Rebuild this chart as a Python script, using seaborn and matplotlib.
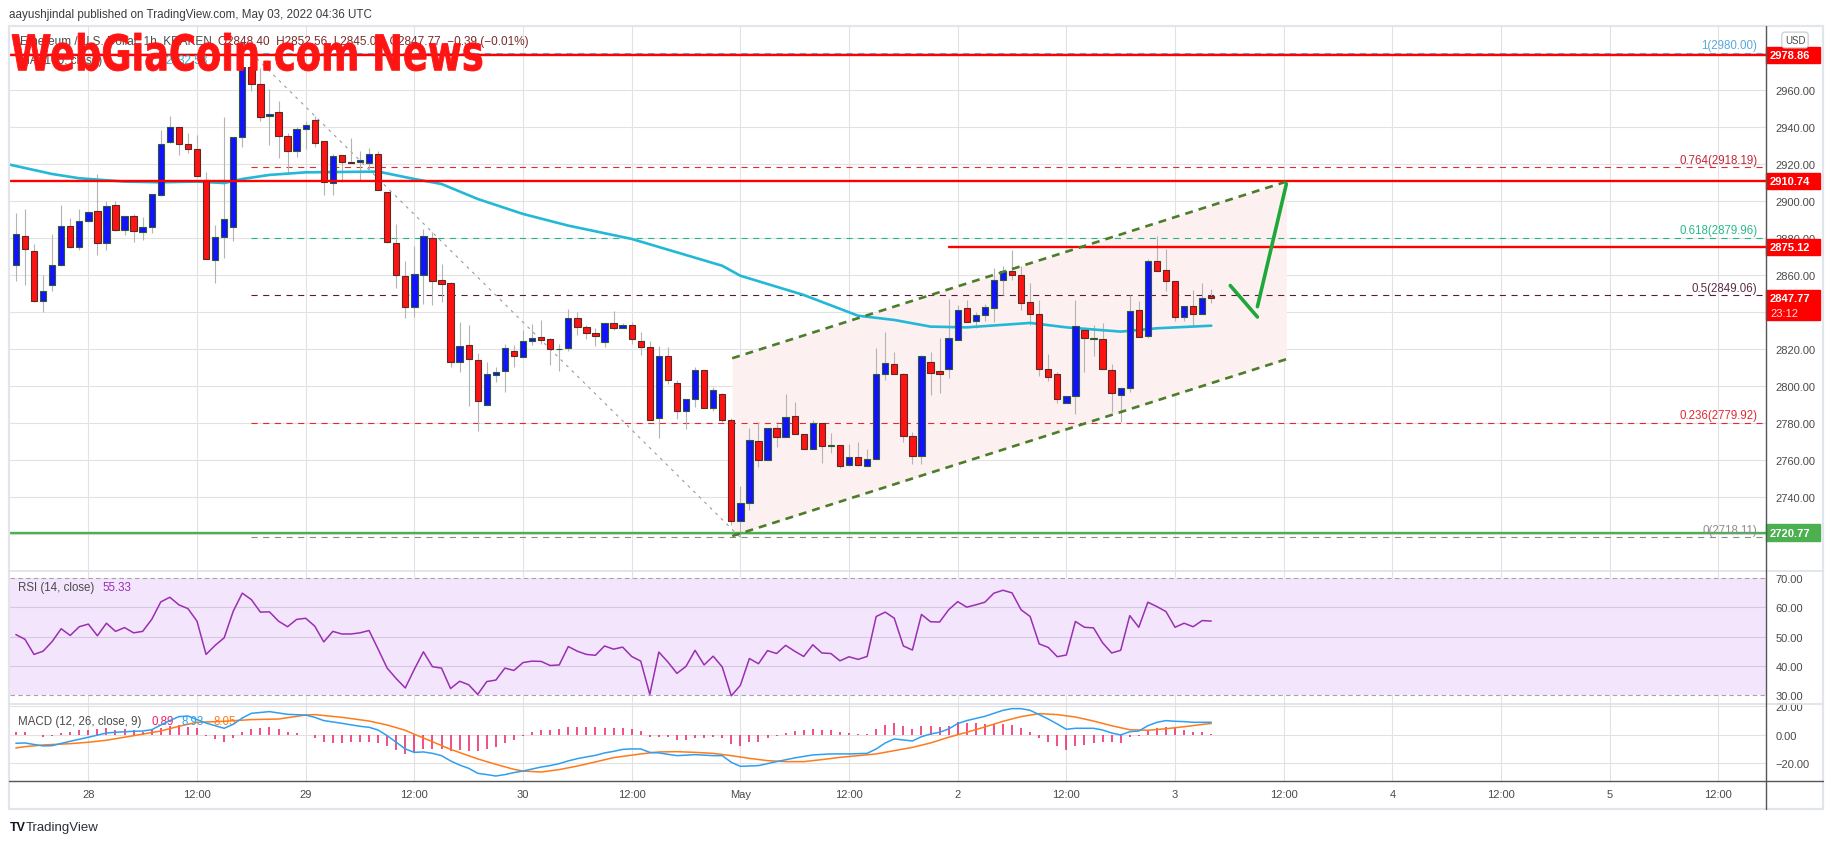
import numpy as np
import pandas as pd
import matplotlib
matplotlib.use("Agg")
import matplotlib.pyplot as plt
import seaborn as sns
from matplotlib.lines import Line2D
from matplotlib.patches import Rectangle, PathPatch
from matplotlib.ticker import FuncFormatter
from matplotlib.textpath import TextPath
from matplotlib.font_manager import FontProperties
from matplotlib.transforms import Affine2D, IdentityTransform

# ---- data ----
# hourly candles, first one = Apr 27 16:00 UTC
opens = [2865.4, 2881.3, 2872.8, 2846.1, 2854.4, 2865.4, 2886.3, 2875.0, 2889.0, 2894.4,
         2877.1, 2897.8, 2884.5, 2891.7, 2883.1, 2885.8, 2903.2, 2932.1, 2939.8, 2930.6,
         2927.9, 2911.5, 2867.9, 2880.4, 2885.8, 2934.4, 2972.5, 2963.2, 2945.8, 2947.9,
         2935.0, 2926.8, 2938.9, 2944.0, 2932.3, 2909.5, 2924.7, 2920.9, 2920.9, 2920.4,
         2925.2, 2904.7, 2877.1, 2859.3, 2842.5, 2860.0, 2879.8, 2857.1, 2855.5, 2812.8,
         2822.0, 2813.9, 2789.7, 2806.1, 2807.9, 2818.9, 2815.9, 2824.1, 2826.3, 2825.2,
         2819.8, 2820.3, 2836.6, 2831.7, 2828.5, 2823.6, 2833.9, 2831.4, 2832.8, 2824.1,
         2820.9, 2782.5, 2816.0, 2801.4, 2786.3, 2792.8, 2808.5, 2788.3, 2795.5, 2781.8,
         2727.0, 2737.0, 2770.1, 2760.2, 2777.1, 2772.3, 2783.6, 2773.9, 2766.0, 2779.8,
         2767.4, 2767.9, 2757.2, 2761.4, 2756.8, 2760.4, 2806.3, 2811.7, 2806.3, 2772.8,
         2762.0, 2812.8, 2807.9, 2809.2, 2825.1, 2842.0, 2835.0, 2838.2, 2842.0, 2857.1,
         2862.0, 2859.8, 2845.2, 2838.7, 2809.0, 2806.3, 2790.6, 2794.4, 2830.1, 2825.4,
         2825.3, 2808.5, 2795.0, 2798.7, 2840.9, 2826.9, 2867.4, 2862.5, 2856.6, 2837.1,
         2843.1, 2838.7, 2848.4]
highs = [2893.5, 2895.7, 2876.8, 2860.0, 2882.2, 2897.8, 2890.8, 2895.7, 2894.8, 2914.6,
         2899.8, 2899.8, 2891.7, 2893.0, 2891.2, 2903.8, 2938.6, 2945.8, 2939.8, 2936.6,
         2935.7, 2915.5, 2887.2, 2945.2, 2934.4, 2975.0, 2980.0, 2971.7, 2960.5, 2953.9,
         2936.8, 2939.8, 2943.4, 2946.0, 2932.3, 2925.4, 2924.7, 2934.1, 2926.8, 2928.6,
         2926.8, 2904.7, 2887.6, 2867.6, 2875.9, 2884.9, 2883.1, 2866.0, 2856.0, 2834.8,
         2833.0, 2817.8, 2813.2, 2810.1, 2822.7, 2822.1, 2830.4, 2833.5, 2835.7, 2825.8,
         2822.7, 2841.6, 2839.8, 2833.0, 2831.2, 2833.9, 2840.4, 2833.9, 2834.4, 2829.0,
         2824.1, 2821.4, 2820.9, 2803.2, 2792.8, 2810.3, 2808.5, 2799.3, 2796.2, 2782.5,
         2746.0, 2777.3, 2780.4, 2777.1, 2779.5, 2795.7, 2791.4, 2773.9, 2781.6, 2779.8,
         2774.4, 2767.9, 2768.6, 2769.5, 2766.0, 2820.5, 2829.0, 2818.4, 2807.2, 2775.0,
         2817.0, 2818.2, 2825.8, 2847.0, 2844.0, 2846.5, 2839.8, 2844.3, 2863.8, 2864.7,
         2873.5, 2864.7, 2855.5, 2846.5, 2817.3, 2807.4, 2794.4, 2846.5, 2831.7, 2833.0,
         2833.9, 2811.7, 2798.7, 2849.2, 2845.9, 2868.6, 2880.9, 2874.0, 2856.6, 2843.1,
         2851.9, 2855.5, 2852.56]
lows = [2856.9, 2854.8, 2845.2, 2840.2, 2851.5, 2865.0, 2874.6, 2873.7, 2888.5, 2871.0,
        2873.7, 2884.0, 2881.8, 2877.7, 2879.1, 2882.5, 2902.9, 2931.4, 2925.0, 2925.8,
        2913.2, 2868.5, 2855.9, 2869.4, 2878.6, 2929.4, 2959.6, 2943.4, 2930.3, 2923.1,
        2914.6, 2923.6, 2928.0, 2929.0, 2903.4, 2903.4, 2910.1, 2920.4, 2911.5, 2917.3,
        2905.8, 2877.1, 2853.0, 2836.8, 2837.5, 2844.3, 2844.0, 2845.6, 2810.5, 2807.4,
        2789.4, 2775.5, 2789.7, 2802.3, 2796.9, 2810.5, 2815.9, 2822.1, 2822.7, 2811.6,
        2808.3, 2819.1, 2827.8, 2825.4, 2821.8, 2821.3, 2830.5, 2831.2, 2822.7, 2816.9,
        2781.4, 2772.1, 2801.1, 2782.2, 2777.0, 2788.8, 2787.9, 2786.7, 2780.7, 2725.0,
        2718.11, 2733.0, 2756.4, 2760.2, 2767.2, 2772.3, 2773.9, 2766.0, 2766.0, 2758.2,
        2763.6, 2755.5, 2757.0, 2757.0, 2756.8, 2760.4, 2803.1, 2806.3, 2769.6, 2758.0,
        2758.0, 2795.3, 2796.0, 2804.1, 2825.0, 2834.4, 2831.3, 2835.3, 2834.4, 2849.4,
        2857.5, 2840.9, 2833.1, 2805.6, 2802.9, 2790.6, 2790.6, 2785.0, 2807.7, 2816.4,
        2809.0, 2786.1, 2780.7, 2796.9, 2826.3, 2825.8, 2862.0, 2851.5, 2835.3, 2835.3,
        2831.7, 2838.7, 2845.0]
closes = [2882.2, 2873.9, 2846.1, 2851.2, 2865.2, 2886.3, 2875.0, 2889.0, 2893.9, 2877.1,
          2897.1, 2884.5, 2891.7, 2883.6, 2885.8, 2903.8, 2930.6, 2939.8, 2930.6, 2927.9,
          2913.3, 2868.5, 2880.4, 2890.1, 2934.4, 2972.5, 2963.2, 2945.2, 2947.2, 2935.0,
          2926.8, 2938.7, 2941.1, 2931.2, 2910.1, 2924.1, 2920.9, 2920.7, 2922.0, 2925.2,
          2905.8, 2877.7, 2860.0, 2842.5, 2860.4, 2880.9, 2856.9, 2855.0, 2812.8, 2821.4,
          2814.4, 2792.1, 2806.3, 2807.4, 2820.4, 2816.0, 2824.1, 2825.8, 2825.0, 2819.8,
          2820.1, 2836.6, 2831.7, 2828.5, 2826.8, 2833.9, 2831.2, 2832.8, 2825.2, 2820.9,
          2781.4, 2816.0, 2803.1, 2786.3, 2792.8, 2808.5, 2788.3, 2797.7, 2781.4, 2727.0,
          2737.0, 2770.8, 2760.0, 2777.1, 2772.3, 2783.1, 2773.9, 2766.0, 2779.8, 2767.4,
          2767.9, 2756.8, 2761.4, 2757.2, 2760.4, 2806.3, 2812.3, 2806.3, 2772.8, 2762.0,
          2816.4, 2806.9, 2806.3, 2825.8, 2840.9, 2834.4, 2838.2, 2842.5, 2857.1, 2862.0,
          2859.8, 2844.7, 2838.7, 2809.2, 2804.7, 2792.8, 2794.4, 2832.3, 2825.8, 2825.4,
          2809.0, 2796.0, 2798.7, 2840.4, 2826.3, 2867.4, 2862.0, 2856.6, 2837.1, 2843.1,
          2838.7, 2847.8, 2847.77]

# MA(100) read at a few candles
ma_idx = [-1, 4, 7, 12, 16, 20, 23, 25, 28, 32, 40, 44, 47, 51, 56, 61, 68, 74, 78, 80,
          87, 93, 97, 101, 105, 112, 116, 122, 126, 132]
ma_val = [2920.0, 2914.6, 2912.3, 2910.5, 2910.1, 2910.5, 2909.7, 2911.9, 2914.1, 2915.5,
          2915.9, 2911.9, 2909.2, 2901.1, 2893.0, 2886.7, 2879.5, 2870.8, 2865.0, 2859.6,
          2849.2, 2838.0, 2835.7, 2832.1, 2831.7, 2834.1, 2831.7, 2829.4, 2831.2, 2832.6]

rsi = [50.7, 49.1, 43.9, 45.0, 48.3, 52.7, 50.4, 53.4, 54.3, 50.3,
       54.6, 51.8, 53.1, 51.3, 51.8, 55.9, 61.9, 63.5, 60.9, 59.6,
       55.3, 43.9, 47.0, 49.6, 58.7, 64.9, 62.7, 58.4, 58.5, 55.3,
       53.4, 55.9, 56.3, 53.6, 48.2, 51.8, 50.9, 50.9, 51.3, 52.1,
       45.7, 39.2, 35.6, 32.4, 38.8, 44.8, 39.7, 39.2, 32.2, 34.7,
       33.5, 30.2, 34.6, 35.1, 39.2, 38.4, 41.1, 41.6, 41.5, 40.1,
       40.3, 46.6, 45.0, 43.9, 43.6, 46.8, 45.7, 46.4, 43.2, 41.6,
       30.2, 44.7, 41.3, 37.4, 39.8, 45.3, 40.3, 43.3, 39.6, 29.7,
       33.3, 42.5, 40.7, 45.2, 44.2, 47.0, 45.0, 43.2, 47.2, 44.4,
       44.2, 41.7, 43.1, 42.2, 43.2, 56.9, 58.4, 56.3, 46.8, 45.4,
       57.6, 55.1, 55.0, 59.2, 62.0, 60.1, 60.9, 61.8, 64.9, 65.9,
       65.0, 59.2, 56.9, 47.5, 46.3, 43.1, 43.7, 55.2, 53.2, 53.0,
       47.9, 44.4, 45.3, 57.2, 53.2, 61.8, 60.3, 58.6, 53.2, 54.6,
       53.4, 55.5, 55.33]

macd_idx = [0, 1, 3, 4, 6, 8, 10, 11, 13, 14, 15, 16, 17, 18, 19, 20, 21, 22, 23, 24,
            25, 26, 28, 30, 32, 33, 34, 36, 38, 39, 40, 41, 42, 43, 44, 45, 46, 47, 48, 49,
            50, 51, 52, 53, 54, 55, 56, 57, 58, 59, 60, 61, 62, 63, 64, 65, 66, 67, 68, 69,
            70, 71, 73, 75, 77, 78, 79, 80, 82, 84, 86, 88, 90, 92, 94, 95, 96, 97, 98, 99,
            100, 101, 102, 103, 104, 105, 107, 108, 109, 110, 111, 112, 113, 114, 115, 116, 117, 119, 120, 121,
            122, 123, 124, 125, 126, 127, 128, 129, 130, 131, 132]
macd_val = [-5.8, -5.6, -7.7, -7.5, -4.4, -1.6, 1.4, 1.9, 2.6, 2.8, 3.7, 7.0, 10.1, 12.9, 13.3, 10.8, 8.4, 6.5, 4.7, 7.5,
            11.9, 15.2, 16.4, 14.5, 14.0, 12.4, 10.1, 8.2, 6.1, 5.4, 3.5, -0.5, -5.1, -9.8, -12.2, -11.9, -12.9, -14.5, -18.2, -21.1,
            -23.4, -26.9, -27.8, -28.8, -27.8, -26.4, -25.3, -23.9, -22.5, -21.5, -20.1, -18.2, -16.6, -15.4, -14.3, -12.6, -11.5, -10.1, -9.8, -9.8,
            -12.2, -12.6, -14.5, -13.8, -14.5, -14.5, -19.2, -22.0, -21.5, -18.7, -16.1, -14.0, -13.3, -13.3, -12.9, -9.8, -5.6, -2.8, -3.5, -4.2,
            -1.2, 0.7, 1.9, 4.2, 8.0, 10.1, 13.1, 15.2, 17.3, 18.5, 18.5, 17.3, 14.3, 11.2, 7.7, 4.0, 4.7, 4.7, 3.5, 1.4,
            0.0, 2.3, 2.8, 6.5, 8.9, 10.1, 9.6, 9.4, 8.9, 8.9, 8.93]
signal_idx = [0, 1, 3, 6, 8, 10, 13, 16, 18, 20, 23, 26, 29, 32, 33, 36, 39, 41, 43, 44,
              46, 48, 51, 53, 55, 56, 58, 60, 62, 64, 66, 69, 71, 73, 75, 77, 79, 81, 83, 85,
              87, 89, 91, 93, 95, 97, 99, 101, 103, 105, 107, 109, 111, 113, 115, 117, 119, 121, 123, 125,
              127, 129, 131, 132]
signal_val = [-9.1, -8.2, -7.0, -6.1, -5.1, -3.7, -0.5, 2.8, 6.1, 8.9, 9.6, 10.8, 11.2, 14.0, 14.3, 12.4, 9.8, 7.0, 3.3, 0.5,
              -4.7, -10.1, -16.8, -20.6, -24.1, -25.3, -26.0, -24.3, -21.8, -18.9, -15.9, -13.3, -11.9, -11.7, -12.2, -12.9, -14.5, -16.4, -18.0, -18.7,
              -18.7, -17.3, -15.7, -14.5, -13.3, -11.0, -8.7, -5.6, -1.6, 1.9, 5.6, 9.6, 12.9, 15.0, 14.3, 12.6, 9.8, 6.5, 3.7, 3.3,
              4.4, 5.8, 7.4, 8.05]
hist = [2.3, 1.9, 0.0, -1.6, -0.5, 1.2, 2.3, 3.7, 3.7, 4.2,
        4.7, 3.7, 4.2, 3.3, 2.3, 3.3, 4.7, 6.5, 7.0, 5.4,
        4.7, -0.5, -2.8, -4.7, -2.3, 1.9, 4.2, 4.9, 5.4, 4.2,
        1.9, 1.2, 0.2, -2.3, -4.7, -5.6, -5.6, -5.1, -5.1, -4.7,
        -5.6, -7.5, -10.3, -13.3, -12.6, -9.8, -9.8, -9.8, -11.0, -10.3,
        -11.0, -11.0, -9.8, -8.7, -5.6, -3.3, -0.5, 1.9, 3.3, 3.7,
        4.2, 5.8, 5.8, 5.4, 5.4, 5.1, 4.6, 4.9, 4.2, 2.8,
        -1.2, -1.2, -1.6, -3.3, -3.3, -1.9, -2.3, -1.6, -1.9, -6.3,
        -7.5, -5.1, -4.7, -2.3, -0.9, 1.4, 2.8, 3.5, 4.2, 3.5,
        3.3, 1.9, 1.4, 0.7, 0.9, 4.2, 7.0, 8.4, 6.1, 4.2,
        6.5, 6.5, 5.6, 6.5, 8.9, 8.4, 8.4, 7.7, 7.7, 7.7,
        7.0, 4.7, 2.3, -1.9, -5.1, -8.0, -10.3, -7.5, -7.0, -5.6,
        -4.7, -5.1, -5.6, -1.6, -0.9, 3.0, 4.7, 5.6, 5.4, 3.5,
        2.3, 1.9, 0.89]

tick_idx = [8, 20, 32, 44, 56, 68, 80, 92, 104, 116, 128, 140, 152, 164, 176, 188]
tick_labels = ["28", "12:00", "29", "12:00", "30", "12:00", "May", "12:00",
               "2", "12:00", "3", "12:00", "4", "12:00", "5", "12:00"]
# scale labels left visible (2720 and 2840 sit under the price boxes)
price_ticks = [2740, 2760, 2780, 2800, 2820, 2860, 2880, 2900, 2920, 2940, 2960]

fib_names = ["1", "0.764", "0.618", "0.5", "0.236", "0"]
fib_prices = [2980.00, 2918.19, 2879.96, 2849.06, 2779.92, 2718.11]
fib_colors = ["#5fb0e2", "#e8262f", "#25b58a", "#5c1838", "#e8262f", "#8a8a8a"]
fib_text_colors = ["#5aa8dc", "#c0283a", "#2aba84", "#5c2a44", "#e02a34", "#8e8e8e"]
fib_start = 26

level_prices = [2978.86, 2910.74, 2875.12, 2720.77]
level_start = [-1, -1, 103, -1]
level_colors = ["#ff0000", "#ff0000", "#ff0000", "#4caf50"]

swing_x = [26, 80]
swing_y = [2980.00, 2718.11]
chan_x = [79.1, 140.3]
chan_lower = [2718.9, 2814.5]
chan_upper = [2815.0, 2910.5]
arrow_down_x = [134.1, 137.1]
arrow_down_y = [2854.3, 2837.3]
arrow_up_x = [137.1, 140.3]
arrow_up_y = [2842.9, 2909.3]

assert len(opens) == len(highs) == len(lows) == len(closes) == len(rsi) == len(hist) == 133
assert len(macd_idx) == len(macd_val) and len(signal_idx) == len(signal_val)

# ---- style ----
sns.set_theme(style="white")
plt.rcParams["font.family"] = ["Liberation Sans", "DejaVu Sans"]
plt.rcParams["axes.unicode_minus"] = True

W, H = 1834, 845
X0, X1 = -0.65, 193.26
AXC = "#4a4a4a"
GRID = "#e2e2e2"


def px_box(x0, y0, x1, y1):
    return [x0 / W, 1 - y1 / H, (x1 - x0) / W, (y1 - y0) / H]


def fig_hline(y, x0, x1, color, lw):
    fig.add_artist(Line2D([x0 / W, x1 / W], [1 - y / H, 1 - y / H],
                          transform=fig.transFigure, color=color, lw=lw))


fig = plt.figure(figsize=(W / 100, H / 100), dpi=100)
fig.patch.set_facecolor("white")

ax = fig.add_axes(px_box(10, 27, 1766, 572))
ax_rsi = fig.add_axes(px_box(10, 572, 1766, 705))
ax_macd = fig.add_axes(px_box(10, 705, 1766, 782))

for a in (ax, ax_rsi, ax_macd):
    a.set_facecolor("none")
    for s in a.spines.values():
        s.set_visible(False)
    a.set_xlim(X0, X1)
    a.set_xticks(tick_idx)
    a.yaxis.tick_right()
    a.tick_params(axis="y", length=0, pad=7, labelsize=8, labelcolor=AXC)
    a.tick_params(axis="x", length=0)
    for t in tick_idx:
        a.axvline(t, color=GRID, lw=0.8, zorder=0)

fmt = FuncFormatter(lambda v, p: f"{v:.2f}".replace("-", "\u2212"))

# ---- price pane ----
df = pd.DataFrame({"open": opens, "high": highs, "low": lows, "close": closes})
df["i"] = np.arange(len(df))
up = (df["close"] >= df["open"]).values

ax.set_ylim(2700.0, 2994.6)
ax.set_yticks(price_ticks)
ax.yaxis.set_major_formatter(fmt)
ax.set_xticklabels([])
for p in range(2700, 2981, 20):
    ax.axhline(p, color=GRID, lw=0.8, zorder=0)

# channel
ax.fill_between(chan_x, chan_lower, chan_upper, color="#fcf1f0", zorder=0.6, lw=0)

# fib levels
for name, p, c, tc in zip(fib_names, fib_prices, fib_colors, fib_text_colors):
    ax.plot([fib_start, X1 - 0.3], [p, p], color=c, lw=0.8, dashes=(5.5, 5.0), zorder=1)
    ax.annotate(f"{name}({p:.2f})", xy=(192.3, p), xytext=(0, 1.2), textcoords="offset points",
                ha="right", va="bottom", color=tc, fontsize=8.3, zorder=6)

ax.plot(swing_x, swing_y, color="#9a9a9a", lw=0.8, dashes=(2.6, 4.4), zorder=1.2)

# MA 100
sns.lineplot(x=ma_idx, y=ma_val, ax=ax, color="#22b8d6", lw=1.9, zorder=2.5)

# candles
ax.vlines(df["i"], df["low"], df["high"], color="#b4b4b4", lw=0.8, zorder=2)
body_lo = np.minimum(df["open"], df["close"])
body_h = np.maximum((df["close"] - df["open"]).abs(), 0.35)
ax.bar(df["i"], body_h, bottom=body_lo, width=0.7,
       color=np.where(up, "#1212ff", "#ff1212"),
       edgecolor=np.where(up, "#2e5a34", "#5c2a24"), linewidth=0.8, zorder=3)

# horizontal levels
for p, s, c in zip(level_prices, level_start, level_colors):
    ax.plot([s, X1], [p, p], color=c, lw=1.7, zorder=4)

# channel borders and arrows
ax.plot(chan_x, chan_lower, color="#4c7d2a", lw=1.9, dashes=(3.0, 2.3), zorder=4)
ax.plot(chan_x, chan_upper, color="#4c7d2a", lw=1.9, dashes=(3.0, 2.3), zorder=4)
ax.plot(arrow_down_x, arrow_down_y, color="#1fa83a", lw=2.6, solid_capstyle="round", zorder=5)
ax.plot(arrow_up_x, arrow_up_y, color="#1fa83a", lw=2.6, solid_capstyle="round", zorder=5)

# price boxes on the right scale
ytr = ax.get_yaxis_transform()
box_w = 54 / 1756
for p, c in zip(level_prices, level_colors):
    ax.add_patch(Rectangle((1.0, p - 4.4), box_w, 8.8, transform=ytr, color=c,
                           clip_on=False, zorder=8))
    ax.text(1.0 + 4 / 1756, p, f"{p:.2f}", transform=ytr, color="white", fontsize=8,
            fontweight="bold", va="center", ha="left", clip_on=False, zorder=9)
ax.add_patch(Rectangle((1.0, 2835.8), box_w, 16.2, transform=ytr, color="#ff0000",
                       clip_on=False, zorder=8))
ax.text(1.0 + 4 / 1756, closes[-1], f"{closes[-1]:.2f}", transform=ytr, color="white",
        fontsize=8, fontweight="bold", va="center", ha="left", clip_on=False, zorder=9)
ax.text(1.0 + 4 / 1756, 2839.6, "23:12", transform=ytr, color="#ffe0e0",
        fontsize=8, va="center", ha="left", clip_on=False, zorder=9)

# ---- RSI pane ----
ax_rsi.set_ylim(26.9, 72.5)
ax_rsi.set_yticks([30, 40, 50, 60, 70])
ax_rsi.yaxis.set_major_formatter(fmt)
ax_rsi.set_xticklabels([])
ax_rsi.axhspan(30, 70, color="#f3e5fc", zorder=0.1, lw=0)
for v in (40, 50, 60):
    ax_rsi.axhline(v, color="#d6c8e2", lw=0.8, zorder=0.5)
for v in (30, 70):
    ax_rsi.axhline(v, color="#a8a2ae", lw=0.8, dashes=(4, 3), zorder=0.5)
sns.lineplot(x=np.arange(len(rsi)), y=rsi, ax=ax_rsi, color="#9a2fb2", lw=1.1, zorder=3)
ax_rsi.text(8 / 1756, 0.88, "RSI (14, close)", transform=ax_rsi.transAxes, fontsize=8.3,
            color="#4a4a4a", va="center")
ax_rsi.text(92 / 1756, 0.88, "55.33", transform=ax_rsi.transAxes, fontsize=8.3,
            color="#9a2fb2", va="center")

# ---- MACD pane ----
ax_macd.set_ylim(-32.3, 21.75)
ax_macd.set_yticks([-20, 0, 20])
ax_macd.yaxis.set_major_formatter(fmt)
for v in (-20, 0, 20):
    ax_macd.axhline(v, color=GRID, lw=0.8, zorder=0)
ax_macd.vlines(np.arange(len(hist)), 0, hist, color="#f01c66", lw=1.1, zorder=2)
sns.lineplot(x=signal_idx, y=signal_val, ax=ax_macd, color="#ff7a1a", lw=1.1, zorder=3)
sns.lineplot(x=macd_idx, y=macd_val, ax=ax_macd, color="#2f9ff0", lw=1.1, zorder=4)
ax_macd.set_xticklabels(tick_labels)
ax_macd.tick_params(axis="x", pad=6, labelsize=8, labelcolor=AXC)
ax_macd.text(8 / 1756, 0.78, "MACD (12, 26, close, 9)", transform=ax_macd.transAxes,
             fontsize=8.3, color="#4a4a4a", va="center")
for xp, s, c in [(141, "0.89", "#f01c66"), (171, "8.93", "#2f9ff0"), (203, "8.05", "#ff7a1a")]:
    ax_macd.text(xp / 1756, 0.78, s, transform=ax_macd.transAxes, fontsize=8.3, color=c,
                 va="center")

for a in (ax, ax_rsi, ax_macd):
    a.set_xlabel("")
    a.set_ylabel("")

# ---- frame, separators ----
fig.add_artist(Rectangle((9 / W, 1 - 810 / H), (1823 - 9) / W, (810 - 27) / H,
                         transform=fig.transFigure, fill=False, ec="#e3e5ec", lw=1.6))
fig_hline(572, 9, 1823, "#e0e2ea", 1.3)
fig_hline(705, 9, 1823, "#e0e2ea", 1.3)
fig_hline(782, 9, 1823, "#555555", 1.0)
fig.add_artist(Line2D([1766 / W, 1766 / W], [1 - 810 / H, 1 - 27 / H],
                      transform=fig.transFigure, color="#555555", lw=1.0))

fig.text(1795 / W, 1 - 41 / H, "USD", fontsize=7, color="#4a4a4a", ha="center", va="center",
         bbox=dict(boxstyle="round,pad=0.3", fc="white", ec="#c8c8c8", lw=0.8))

# ---- texts ----
fig.text(9 / W, 1 - 15 / H, "aayushjindal published on TradingView.com, May 03, 2022 04:36 UTC",
         fontsize=8.4, color="#3c3c3c", va="center")
fig.text(20 / W, 1 - 42 / H, "Ethereum / U.S. Dollar, 1h, KRAKEN", fontsize=8.5,
         color="#4a4a4a", va="center")
fig.text(218 / W, 1 - 42 / H, "O2848.40  H2852.56  L2845.00  C2847.77  \u22120.39 (\u22120.01%)",
         fontsize=8.5, color="#7a2a2a", va="center")
fig.text(20 / W, 1 - 61 / H, "MA (100, close)", fontsize=8.5, color="#4a4a4a", va="center")
fig.text(165 / W, 1 - 61 / H, "2832.58", fontsize=8.5, color="#22b8d6", va="center")

# watermark, squeezed into the box it covers in the picture
wm = TextPath((0, 0), "WebGiaCoin.com News", size=50,
              prop=FontProperties(family="DejaVu Sans", weight="bold"))
ext = wm.get_extents()
wm_tr = (Affine2D().translate(-ext.x0, -ext.y0)
         .scale((482 - 12) / ext.width, (72 - 34) / ext.height)
         .translate(12, H - 72))
fig.add_artist(PathPatch(wm_tr.transform_path(wm), facecolor="#ff1414", edgecolor="#ff1414",
                         lw=0.6, transform=IdentityTransform(), zorder=20))

fig.text(10 / W, 1 - 828 / H, "TV", fontsize=9, fontweight="bold", color="#131722", va="center")
fig.text(26 / W, 1 - 828 / H, "TradingView", fontsize=9.5, color="#2a2e39", va="center")

fig.savefig("out.png", dpi=100, facecolor="white")
